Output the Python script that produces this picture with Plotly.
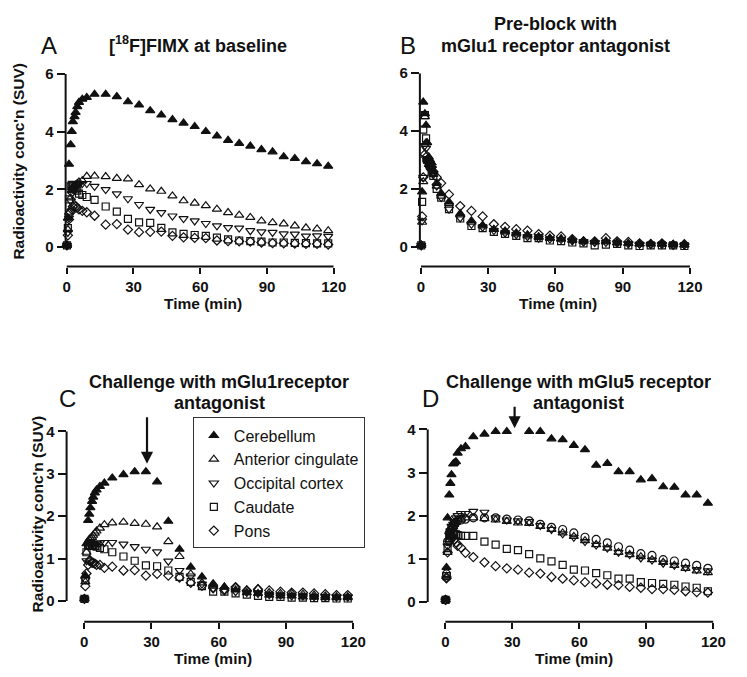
import plotly.graph_objects as go

# ---------------- data ----------------
T_EARLY = [0.1, 0.5, 1.0, 1.75, 2.25, 2.75, 3.5, 4.0, 4.75, 5.5, 7.0, 9.0]
T_LATE = [12.5, 17.5, 22.5, 27.5, 32.5, 37.5, 42.5, 47.5, 52.5, 57.5, 62.5,
          67.5, 72.5, 77.5, 82.5, 87.5, 92.5, 97.5, 102.5, 107.5, 112.5, 117.5]
TIME = T_EARLY + T_LATE

REGIONS = ["Cerebellum", "Anterior cingulate", "Occipital cortex", "Caudate", "Pons"]

# Panel A: baseline
A_cer = [0.05, 1.0, 2.87, 3.55, 4.01, 4.35, 4.52, 4.67, 4.87, 5.02, 5.13, 5.19,
         5.30, 5.30, 5.22, 5.04, 4.93, 4.73, 4.58, 4.42, 4.30, 4.18, 4.01, 3.85, 3.70, 3.59, 3.50, 3.38, 3.30, 3.13, 3.07, 2.96, 2.89, 2.80]
A_ac = [0.05, 0.6, 1.2, 1.7, 1.95, 2.05, 2.1, 2.15, 2.2, 2.25, 2.3, 2.45,
        2.46, 2.44, 2.38, 2.36, 2.16, 2.01, 1.93, 1.77, 1.60, 1.52, 1.43, 1.31, 1.19, 1.10, 1.02, 0.90, 0.84, 0.80, 0.73, 0.66, 0.62, 0.56]
A_occ = [0.05, 0.5, 1.0, 1.6, 1.85, 2.0, 2.05, 2.1, 2.15, 2.2, 2.2, 2.2,
         2.10, 1.99, 1.84, 1.67, 1.47, 1.30, 1.19, 1.07, 0.98, 0.90, 0.81, 0.73, 0.67, 0.65, 0.56, 0.52, 0.50, 0.45, 0.44, 0.37, 0.38, 0.36]
A_cau = [0.05, 0.65, 1.65, 2.1, 2.15, 2.1, 2.05, 2.0, 1.95, 1.85, 1.8, 1.73,
         1.63, 1.40, 1.22, 0.97, 0.85, 0.83, 0.66, 0.50, 0.45, 0.41, 0.38, 0.32, 0.26, 0.22, 0.20, 0.18, 0.15, 0.15, 0.14, 0.13, 0.12, 0.12]
A_pons = [0.05, 0.4, 0.95, 1.2, 1.3, 1.4, 1.45, 1.4, 1.35, 1.3, 1.25, 1.2,
          1.08, 0.77, 0.79, 0.60, 0.51, 0.52, 0.53, 0.38, 0.33, 0.31, 0.30, 0.22, 0.20, 0.19, 0.18, 0.15, 0.13, 0.12, 0.11, 0.10, 0.10, 0.08]

# Panel B: pre-block with mGlu1 antagonist
B_cer = [0.05, 1.9, 5.0, 4.6, 4.2, 3.6, 3.1, 3.0, 2.9, 2.6, 2.2, 1.85,
         1.55, 1.15, 0.90, 0.75, 0.60, 0.55, 0.48, 0.42, 0.35, 0.30, 0.28, 0.25, 0.20, 0.18, 0.20, 0.15, 0.12, 0.10, 0.10, 0.10, 0.08, 0.07]
B_ac = [0.05, 0.85, 2.25, 4.5, 3.6, 3.0, 2.85, 2.8, 2.7, 2.5, 2.1, 1.75,
        1.50, 1.10, 0.85, 0.72, 0.60, 0.52, 0.45, 0.38, 0.33, 0.30, 0.27, 0.22, 0.20, 0.17, 0.17, 0.14, 0.12, 0.10, 0.10, 0.09, 0.08, 0.07]
B_occ = [0.05, 0.9, 2.4, 3.5, 3.4, 3.0, 2.9, 2.8, 2.7, 2.5, 2.1, 1.7,
         1.30, 1.00, 0.78, 0.68, 0.56, 0.48, 0.42, 0.35, 0.30, 0.27, 0.25, 0.20, 0.18, 0.15, 0.15, 0.12, 0.10, 0.09, 0.08, 0.08, 0.07, 0.06]
B_cau = [0.05, 1.55, 4.05, 4.55, 3.75, 3.0, 2.9, 2.8, 2.6, 2.45, 2.0, 1.7,
         1.30, 0.98, 0.72, 0.65, 0.52, 0.45, 0.38, 0.30, 0.30, 0.22, 0.20, 0.15, 0.12, 0.05, 0.08, 0.10, 0.05, 0.03, 0.05, 0.05, 0.05, 0.03]
B_pons = [0.05, 1.05, 2.4, 3.2, 3.1, 3.0, 2.95, 2.85, 2.75, 2.6, 2.4, 2.2,
          1.81, 1.41, 1.24, 1.05, 0.78, 0.69, 0.61, 0.56, 0.44, 0.39, 0.36, 0.27, 0.19, 0.19, 0.30, 0.19, 0.17, 0.12, 0.10, 0.12, 0.07, 0.09]

# Panel C: challenge with mGlu1 antagonist
C_cer = [0.05, 0.6, 1.35, 1.9, 2.05, 2.2, 2.35, 2.45, 2.55, 2.62, 2.7, 2.78,
         2.90, 2.98, 3.05, 3.05, 2.81, 1.88, 1.22, 0.80, 0.57, 0.41, 0.33, 0.26, 0.20, 0.18, 0.14, 0.12, 0.12, 0.10, 0.09, 0.08, 0.08, 0.08]
C_ac = [0.05, 0.45, 1.15, 1.4, 1.45, 1.48, 1.5, 1.55, 1.6, 1.65, 1.72, 1.8,
        1.84, 1.86, 1.83, 1.81, 1.75, 1.40, 1.05, 0.64, 0.43, 0.36, 0.33, 0.33, 0.26, 0.29, 0.20, 0.18, 0.18, 0.16, 0.14, 0.12, 0.10, 0.10]
C_occ = [0.05, 0.5, 0.95, 1.3, 1.35, 1.38, 1.35, 1.35, 1.32, 1.35, 1.37, 1.38,
         1.38, 1.34, 1.28, 1.22, 1.16, 0.94, 0.72, 0.59, 0.40, 0.30, 0.26, 0.22, 0.20, 0.18, 0.15, 0.14, 0.12, 0.12, 0.10, 0.10, 0.09, 0.09]
C_cau = [0.05, 0.5, 1.15, 1.3, 1.3, 1.3, 1.3, 1.3, 1.3, 1.28, 1.25, 1.22,
         1.15, 1.05, 0.95, 0.84, 0.82, 0.72, 0.57, 0.45, 0.35, 0.22, 0.22, 0.18, 0.15, 0.12, 0.10, 0.10, 0.08, 0.08, 0.07, 0.07, 0.06, 0.06]
C_pons = [0.05, 0.35, 0.65, 0.85, 0.95, 0.95, 0.9, 0.9, 0.88, 0.85, 0.85, 0.78,
          0.81, 0.72, 0.73, 0.60, 0.64, 0.60, 0.55, 0.43, 0.36, 0.30, 0.25, 0.33, 0.25, 0.28, 0.25, 0.22, 0.20, 0.20, 0.18, 0.16, 0.14, 0.14]

# Panel D: challenge with mGlu5 antagonist
D_cer = [0.05, 0.8, 1.95, 2.48, 2.75, 2.95, 3.2, 3.22, 3.25, 3.45, 3.55, 3.6,
         3.83, 3.89, 3.95, 3.95, 4.01, 3.95, 3.95, 3.78, 3.76, 3.63, 3.53, 3.17, 3.21, 3.02, 3.02, 2.83, 2.86, 2.67, 2.66, 2.48, 2.48, 2.29]
D_ac = [0.05, 0.6, 1.15, 1.45, 1.6, 1.7, 1.75, 1.8, 1.85, 1.9, 1.92, 1.95,
        1.95, 1.93, 1.90, 1.87, 1.83, 1.82, 1.75, 1.68, 1.60, 1.52, 1.42, 1.33, 1.25, 1.15, 1.10, 1.05, 0.98, 0.92, 0.85, 0.78, 0.72, 0.68]
D_occ = [0.05, 0.55, 1.3, 1.55, 1.65, 1.75, 1.8, 1.85, 1.95, 2.0, 2.05, 2.05,
         2.10, 2.08, 1.95, 1.90, 1.88, 1.86, 1.77, 1.68, 1.58, 1.50, 1.40, 1.32, 1.25, 1.15, 1.10, 1.02, 0.97, 0.90, 0.85, 0.80, 0.75, 0.72]
D_cau = [0.05, 0.6, 1.25, 1.45, 1.55, 1.6, 1.6, 1.58, 1.57, 1.55, 1.53, 1.53,
         1.53, 1.40, 1.33, 1.23, 1.20, 1.11, 1.01, 0.94, 0.86, 0.75, 0.73, 0.67, 0.62, 0.54, 0.54, 0.46, 0.44, 0.42, 0.40, 0.36, 0.33, 0.25]
D_pons = [0.05, 0.55, 1.15, 1.4, 1.5, 1.55, 1.5, 1.45, 1.38, 1.3, 1.26, 1.14,
          1.04, 0.92, 0.83, 0.78, 0.75, 0.68, 0.66, 0.58, 0.54, 0.50, 0.46, 0.43, 0.40, 0.39, 0.35, 0.33, 0.30, 0.30, 0.28, 0.25, 0.23, 0.22]
D_other = [0.05, 0.65, 1.4, 1.6, 1.65, 1.7, 1.75, 1.8, 1.85, 1.88, 1.9, 1.92,
           1.95, 1.95, 1.95, 1.92, 1.90, 1.88, 1.80, 1.73, 1.68, 1.60, 1.50, 1.45, 1.37, 1.28, 1.20, 1.12, 1.08, 0.98, 0.95, 0.90, 0.85, 0.78]

X_TICKS = [0, 30, 60, 90, 120]
Y_TICKS_AB = [0, 2, 4, 6]
Y_TICKS_CD = [0, 1, 2, 3, 4]

PANELS = [
    dict(letter="A", title=["[<sup>18</sup>F]FIMX at baseline"],
         series=[A_cer, A_ac, A_occ, A_cau, A_pons]),
    dict(letter="B", title=["Pre-block with", "mGlu1 receptor antagonist"],
         series=[B_cer, B_ac, B_occ, B_cau, B_pons]),
    dict(letter="C", title=["Challenge with mGlu1receptor", "antagonist"],
         series=[C_cer, C_ac, C_occ, C_cau, C_pons]),
    dict(letter="D", title=["Challenge with mGlu5 receptor", "antagonist"],
         series=[D_cer, D_ac, D_occ, D_cau, D_pons]),
]

# ---------------- styling / layout ----------------
W, H = 747, 677
FONT = "Liberation Sans, Arial, sans-serif"
INK = "#111111"

SYMBOLS = ["triangle-up", "triangle-up-open", "triangle-down-open", "square-open", "diamond-open"]
SIZES = [8, 8, 8, 7, 7]

# pixel boxes: (left, right, top, bottom), x range, y range, y ticks
GEOM = [
    dict(box=(64, 338, 66, 261), xr=[-0.5, 120], yr=[-0.685, 6], yt=Y_TICKS_AB),
    dict(box=(426, 702, 65, 261), xr=[-0.5, 120], yr=[-0.68, 6], yt=Y_TICKS_AB),
    dict(box=(65, 358, 428, 621), xr=[-7.85, 120], yr=[-0.488, 4], yt=Y_TICKS_CD),
    dict(box=(434, 726, 426, 621), xr=[-7.9, 120], yr=[-0.457, 4], yt=Y_TICKS_CD),
]
TITLE_POS = [[(199, 36)], [(565, 15), (565, 37)], [(221, 378), (221, 399)], [(588, 378), (588, 399)]]
LETTER_POS = [(47, 37), (414, 37), (66, 395), (437, 395)]

fig = go.Figure()
layout = dict(width=W, height=H, margin=dict(l=0, r=0, t=0, b=0),
              paper_bgcolor="white", plot_bgcolor="white", showlegend=True,
              font=dict(family=FONT, color=INK))
shapes, annotations = [], []
tickfont = dict(family=FONT, size=15, weight="bold", color=INK)

for i, (p, g) in enumerate(zip(PANELS, GEOM)):
    n = "" if i == 0 else str(i + 1)
    xa, ya = "x" + n, "y" + n
    l, r, t, b = g["box"]
    layout["xaxis" + n] = dict(domain=[l / W, r / W], range=g["xr"], anchor=ya,
                               tickvals=X_TICKS, ticks="outside", ticklen=6,
                               tickwidth=2, tickcolor=INK, showgrid=False, zeroline=False,
                               showline=False, tickfont=tickfont)
    layout["yaxis" + n] = dict(domain=[1 - b / H, 1 - t / H], range=g["yr"], anchor=xa,
                               tickvals=g["yt"], ticks="outside", ticklen=8,
                               tickwidth=2, tickcolor=INK, showgrid=False, zeroline=False,
                               showline=False, tickfont=tickfont)
    # detached axis lines (GraphPad style)
    shapes.append(dict(type="line", xref=xa, yref=ya + " domain", x0=0, x1=120, y0=0, y1=0,
                       line=dict(color=INK, width=2)))
    shapes.append(dict(type="line", xref=xa + " domain", yref=ya, x0=0, x1=0, y0=0, y1=g["yr"][1],
                       line=dict(color=INK, width=2)))

    series = p["series"]
    for k in range(len(series) - 1, -1, -1):
        fig.add_trace(go.Scatter(
            x=TIME, y=series[k], mode="markers", xaxis=xa, yaxis=ya,
            name=REGIONS[k], showlegend=(i == 2), cliponaxis=False,
            marker=dict(symbol=SYMBOLS[k], size=SIZES[k], color=INK,
                        line=dict(color=INK, width=1.2)),
            legendrank=k + 1))
    if p["letter"] == "D":
        fig.add_trace(go.Scatter(
            x=TIME, y=D_other, mode="markers", xaxis=xa, yaxis=ya, showlegend=False,
            cliponaxis=False, name="",
            marker=dict(symbol="circle-open", size=8, color=INK, line=dict(color=INK, width=1.2))))

    # x axis title
    annotations.append(dict(text="<b>Time (min)</b>", xref="paper", yref="paper",
                            x=((l + r) / 2 + 3) / W, y=1 - (b + 37) / H,
                            showarrow=False, font=dict(size=15.5, family=FONT, color=INK),
                            xanchor="center", yanchor="middle"))

# titles and panel letters
for p, tpos, (lx, ly) in zip(PANELS, TITLE_POS, LETTER_POS):
    for line, (tx, ty) in zip(p["title"], tpos):
        annotations.append(dict(text="<b>" + line + "</b>", xref="paper", yref="paper",
                                x=tx / W, y=1 - ty / H, showarrow=False, align="center",
                                font=dict(size=18, family=FONT, color=INK),
                                xanchor="center", yanchor="middle"))
    annotations.append(dict(text=p["letter"], xref="paper", yref="paper",
                            x=lx / W, y=1 - ly / H, showarrow=False,
                            font=dict(size=24, family=FONT, color=INK),
                            xanchor="center", yanchor="middle"))

# y axis titles
for (xp, yp) in [(16, 154), (35, 512)]:
    annotations.append(dict(text="<b>Radioactivity conc'n (SUV)</b>", xref="paper", yref="paper",
                            x=xp / W, y=1 - yp / H, showarrow=False, textangle=-90,
                            font=dict(size=15.5, family=FONT, color=INK),
                            xanchor="center", yanchor="middle"))

# arrows marking the challenge injection
annotations.append(dict(x=28, y=1 - 461 / H, xref="x3", yref="paper", ax=0, ay=-48,
                        text="", showarrow=True, arrowhead=2, arrowsize=1.1, arrowwidth=2.2,
                        arrowcolor=INK))
annotations.append(dict(x=31, y=1 - 425 / H, xref="x4", yref="paper", ax=0, ay=-23,
                        text="", showarrow=True, arrowhead=2, arrowsize=1.1, arrowwidth=2.2,
                        arrowcolor=INK))

layout["shapes"] = shapes
layout["annotations"] = annotations
layout["legend"] = dict(x=194 / W, y=1 - 414 / H, xanchor="left", yanchor="top",
                        bgcolor="white", bordercolor="#333333", borderwidth=1,
                        font=dict(size=16, family=FONT, color=INK), traceorder="normal",
                        itemsizing="trace", tracegroupgap=0)
fig.update_layout(**layout)

fig.write_html("out.html", config={"displayModeBar": False},
               post_script="document.body.style.margin='0px';")
